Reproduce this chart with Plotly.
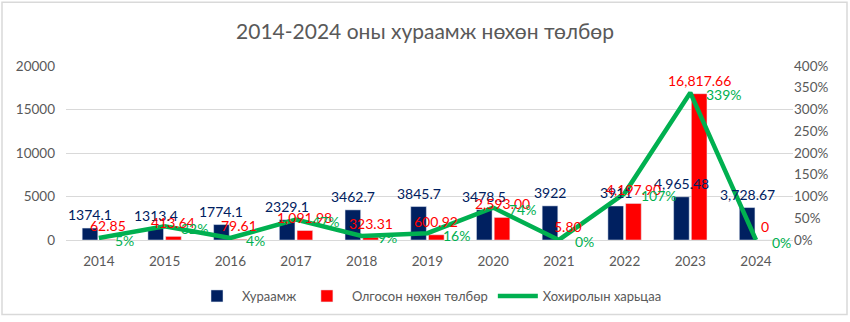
import plotly.graph_objects as go

years = ["2014", "2015", "2016", "2017", "2018", "2019", "2020", "2021", "2022", "2023", "2024"]
premium = [1374.1, 1313.4, 1774.1, 2329.1, 3462.7, 3845.7, 3478.5, 3922, 3911, 4965.48, 3728.67]
premium_labels = ["1374.1", "1313.4", "1774.1", "2329.1", "3462.7", "3845.7", "3478.5", "3922",
                  "3911", "4,965.48", "3,728.67"]
claims = [62.85, 413.64, 79.61, 1091.98, 323.31, 600.92, 2593.00, 5.80, 4197.90, 16817.66, 0]
claims_labels = ["62.85", "413.64", "79.61", "1,091.98", "323.31", "600.92", "2,593.00", "5.80",
                 "4,197.90", "16,817.66", "0"]
loss_ratio = [0.046, 0.315, 0.045, 0.469, 0.093, 0.156, 0.745, 0.0015, 1.073, 3.387, 0.0]

NAVY = "#002060"
RED = "#FF0000"
GREEN = "#00B050"
GRAY = "#595959"
FONT = "Lato, Liberation Sans, sans-serif"

BARGAP = 0.46
BARGROUPGAP = 0.12
# centre of each bar relative to its category, in category units
slot = (1 - BARGAP) / 2
offset = slot / 2

fig = go.Figure()

fig.add_trace(go.Bar(x=years, y=premium, name="Хураамж", marker_color=NAVY))
fig.add_trace(go.Bar(x=years, y=claims, name="Олгосон нөхөн төлбөр", marker_color=RED))
fig.add_trace(go.Scatter(
    x=years, y=loss_ratio, name="Хохиролын харьцаа", yaxis="y2",
    mode="lines", line=dict(color=GREEN, width=4.5),
))

annotations = []
for i, (v, t) in enumerate(zip(premium, premium_labels)):
    annotations.append(dict(x=i - offset, y=v, xref="x", yref="y", text=t, showarrow=False,
                            xanchor="center", yanchor="bottom", yshift=3,
                            font=dict(color=NAVY, size=14, family=FONT)))
for i, (v, t) in enumerate(zip(claims, claims_labels)):
    annotations.append(dict(x=i + offset, y=v, xref="x", yref="y", text=t, showarrow=False,
                            xanchor="center", yanchor="bottom", yshift=3,
                            font=dict(color=RED, size=14, family=FONT)))
for i, v in enumerate(loss_ratio):
    annotations.append(dict(x=i, y=v, xref="x", yref="y2", text=f"{v:.0%}", showarrow=False,
                            xanchor="left", yanchor="middle", xshift=14, yshift=-2,
                            font=dict(color=GREEN, size=14, family=FONT)))

W, H = 850, 322
ml, mr, mt, mb = 66, 57, 66, 81
pw, ph = W - ml - mr, H - mt - mb

fig.update_layout(
    width=W, height=H,
    margin=dict(l=ml, r=mr, t=mt, b=mb),
    paper_bgcolor="white", plot_bgcolor="white",
    font=dict(family=FONT, color=GRAY, size=12),
    title=dict(text="2014-2024 оны хураамж нөхөн төлбөр",
               x=0.5, xanchor="center", y=1 - 32 / H, yanchor="middle",
               font=dict(size=21, color=GRAY, family=FONT)),
    barmode="group", bargap=BARGAP, bargroupgap=BARGROUPGAP,
    xaxis=dict(type="category", showgrid=False, showline=True, linecolor="#d9d9d9",
               ticks="", tickfont=dict(size=13.5, color=GRAY), ticklabelstandoff=9),
    yaxis=dict(range=[0, 20000], dtick=5000, showgrid=True, gridcolor="#d9d9d9",
               zeroline=False, tickfont=dict(size=13.5, color=GRAY), ticks="",
               tickformat="d", ticklabelstandoff=10),
    yaxis2=dict(range=[0, 4], dtick=0.5, overlaying="y", side="right", showgrid=False,
                zeroline=False, tickformat=".0%", tickfont=dict(size=13.5, color=GRAY),
                ticks=""),
    legend=dict(orientation="h", x=0.5, xanchor="center", y=-(296 - 241) / ph,
                yanchor="middle", font=dict(size=13, color=GRAY), itemwidth=40),
    showlegend=True,
    annotations=annotations,
    shapes=[dict(type="rect", xref="paper", yref="paper",
                 x0=-(ml - 2) / pw, x1=1 + (mr - 3) / pw,
                 y0=-(mb - 6) / ph, y1=1 + (mt - 2) / ph,
                 line=dict(color="#d9d9d9", width=1.5), layer="below")],
)

fig.write_html("out.html")
